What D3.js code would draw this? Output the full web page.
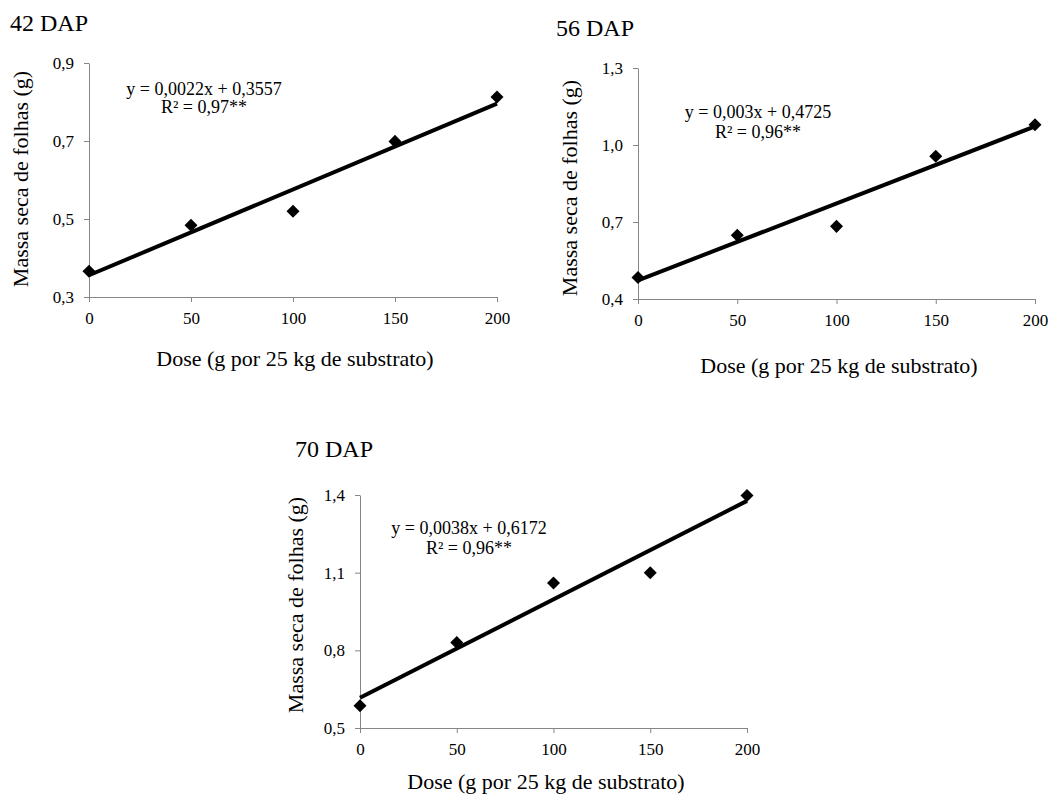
<!DOCTYPE html>
<html>
<head>
<meta charset="utf-8">
<script src="https://cdn.jsdelivr.net/npm/d3@7"></script>
<style>
  body { margin: 0; background: #fff; }
  svg { display: block; font-family: "Liberation Serif", "Times New Roman", serif; }
  .axis path, .axis line { stroke: #868686; }
</style>
</head>
<body>
<svg width="1051" height="796"></svg>
<script>
'use strict';

// doses on x, dry leaf mass
var doses = [0, 50, 100, 150, 200];
var mass42 = [0.366, 0.484, 0.52, 0.699, 0.813];
var mass56 = [0.484, 0.648, 0.683, 0.956, 1.079];
var mass70 = [0.586, 0.83, 1.06, 1.10, 1.398];

var titles = ["42 DAP", "56 DAP", "70 DAP"];
var slopes = [0.0022, 0.003, 0.0038];
var intercepts = [0.3557, 0.4725, 0.6172];
var equations = ["y = 0,0022x + 0,3557", "y = 0,003x + 0,4725", "y = 0,0038x + 0,6172"];
var r2Labels = ["0,97**", "0,96**", "0,96**"];

var xTicks = [0, 50, 100, 150, 200];
var yTicks42 = [0.3, 0.5, 0.7, 0.9];
var yTicks56 = [0.4, 0.7, 1.0, 1.3];
var yTicks70 = [0.5, 0.8, 1.1, 1.4];

var xLabel = "Dose (g por 25 kg de substrato)";
var yLabel = "Massa seca de folhas (g)";

// where each panel sits on the page
var layout = [
  {x0: 89, x1: 497, y0: 63, y1: 297, tx: 10, ty: 31, ylx: 28, yly: 179, xlx: 295, xly: 366, ex: 204, ey: 95, ey2: 113},
  {x0: 638, x1: 1035, y0: 68, y1: 299, tx: 556, ty: 36, ylx: 577, yly: 188, xlx: 839, xly: 373, ex: 758, ey: 118, ey2: 138},
  {x0: 360, x1: 747, y0: 495, y1: 728, tx: 295, ty: 457, ylx: 303, yly: 605, xlx: 546, xly: 789, ex: 469, ey: 534, ey2: 554}
];

var series = [mass42, mass56, mass70];
var yTicks = [yTicks42, yTicks56, yTicks70];

var locale = d3.formatLocale({decimal: ",", thousands: ".", grouping: [3], currency: ["", ""]});
var fmt = locale.format(".1f");

var svg = d3.select("svg");

function styleAxis(sel) {
  sel.attr("font-family", null).attr("font-size", null);
  sel.selectAll("text")
      .style("font-family", "'Liberation Serif', 'Times New Roman', serif")
      .style("font-size", "17px")
      .attr("fill", "#000");
}

series.forEach(function(vals, i) {
  var L = layout[i];
  var ticks = yTicks[i];

  var x = d3.scaleLinear().domain([0, 200]).range([L.x0, L.x1]);
  var y = d3.scaleLinear().domain([ticks[0], ticks[ticks.length - 1]]).range([L.y1, L.y0]);

  var g = svg.append("g");

  g.append("g")
      .attr("class", "axis")
      .attr("transform", "translate(0," + L.y1 + ")")
      .call(d3.axisBottom(x).tickValues(xTicks).tickSize(5).tickSizeOuter(0).tickPadding(10))
      .call(styleAxis);

  g.append("g")
      .attr("class", "axis")
      .attr("transform", "translate(" + L.x0 + ",0)")
      .call(d3.axisLeft(y).tickValues(ticks).tickFormat(fmt).tickSize(5).tickSizeOuter(0).tickPadding(10))
      .call(styleAxis);

  // regression line
  g.append("line")
      .attr("x1", x(0))
      .attr("y1", y(intercepts[i]))
      .attr("x2", x(200))
      .attr("y2", y(intercepts[i] + slopes[i] * 200))
      .attr("stroke", "#000")
      .attr("stroke-width", 4);

  var diamond = d3.symbol().type(d3.symbolSquare).size(85);
  g.selectAll(".pt")
    .data(vals)
    .enter().append("path")
      .attr("class", "pt")
      .attr("d", diamond)
      .attr("transform", function(d, j) { return "translate(" + x(doses[j]) + "," + y(d) + ") rotate(45)"; })
      .attr("fill", "#000");

  g.append("text")
      .attr("x", L.tx)
      .attr("y", L.ty)
      .style("font-size", "24px")
      .text(titles[i]);

  g.append("text")
      .attr("transform", "translate(" + L.ylx + "," + L.yly + ") rotate(-90)")
      .attr("text-anchor", "middle")
      .style("font-size", "22px")
      .text(yLabel);

  g.append("text")
      .attr("x", L.xlx)
      .attr("y", L.xly)
      .attr("text-anchor", "middle")
      .style("font-size", "22px")
      .text(xLabel);

  g.append("text")
      .attr("x", L.ex)
      .attr("y", L.ey)
      .attr("text-anchor", "middle")
      .style("font-size", "18px")
      .text(equations[i]);

  g.append("text")
      .attr("x", L.ex)
      .attr("y", L.ey2)
      .attr("text-anchor", "middle")
      .style("font-size", "18px")
      .text("R\u00b2 = " + r2Labels[i]);
});
</script>
</body>
</html>
